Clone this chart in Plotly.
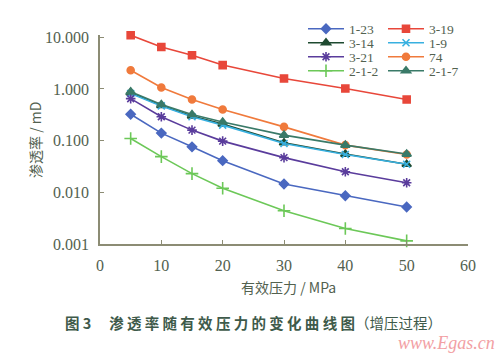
import plotly.graph_objects as go

pressure = [5, 10, 15, 20, 30, 40, 50]

series_names = ["1-23", "3-19", "3-14", "1-9", "3-21", "74", "2-1-2", "2-1-7"]
k_1_23 = [0.325, 0.14, 0.076, 0.041, 0.0145, 0.0086, 0.0052]
k_3_19 = [11.0, 6.5, 4.5, 2.9, 1.6, 1.02, 0.625]
k_3_14 = [0.85, 0.48, 0.30, 0.21, 0.091, 0.055, 0.035]
k_1_9 = [0.82, 0.47, 0.29, 0.20, 0.088, 0.054, 0.035]
k_3_21 = [0.65, 0.29, 0.16, 0.098, 0.047, 0.025, 0.0153]
k_74 = [2.3, 1.07, 0.625, 0.40, 0.185, 0.082, 0.054]
k_2_1_2 = [0.11, 0.049, 0.023, 0.012, 0.0044, 0.002, 0.00115]
k_2_1_7 = [0.88, 0.50, 0.32, 0.23, 0.128, 0.082, 0.055]

y_tickvals = [0.001, 0.01, 0.1, 1, 10]
y_ticktext = ["0.001", "0.010", "0.100", "1.000", "10.000"]
x_tickvals = [0, 10, 20, 30, 40, 50, 60]

values = [k_1_23, k_3_19, k_3_14, k_1_9, k_3_21, k_74, k_2_1_2, k_2_1_7]
colors = ["#4a68c0", "#e8473a", "#1e4a30", "#38b0e0", "#5a3c9c", "#f07a3c", "#6cc858", "#3a7a68"]
symbols = ["diamond", "square", "triangle-up", "x-thin-open", "asterisk-open",
           "circle", "cross-thin-open", "triangle-up"]
sizes = [7, 7, 8, 7, 8, 7, 9, 8]

text_color = "#52614f"
serif = "Liberation Serif, Times New Roman, serif"
cjk = "Noto Sans CJK SC"

# plot area in pixels
PLOT_L, PLOT_W, PLOT_T, PLOT_B = 100, 368, 35, 244
PLOT_H = PLOT_B - PLOT_T
col_px = [303, 383]
row_px = [29, 43, 57, 71]

fig = go.Figure()
layout_legends = {}
for i, (name, vals, c, s, sz) in enumerate(zip(series_names, values, colors, symbols, sizes)):
    lg = "legend" if i == 0 else f"legend{i + 1}"
    fig.add_trace(go.Scatter(
        x=pressure, y=vals, name=name, mode="lines+markers", legend=lg,
        cliponaxis=False,
        line=dict(color=c, width=1.6),
        marker=dict(symbol=s, size=sz, color=c, line=dict(color=c, width=1.6)),
    ))
    col, row = i % 2, i // 2
    layout_legends[lg] = dict(
        x=(col_px[col] - PLOT_L) / PLOT_W, xanchor="left",
        y=(PLOT_B - row_px[row]) / PLOT_H, yanchor="middle",
        font=dict(family=serif, size=13.5, color=text_color),
        bgcolor="rgba(0,0,0,0)", itemwidth=36, borderwidth=0,
    )


def px_x(p):
    return (p - PLOT_L) / PLOT_W


def px_y(p):
    return (PLOT_B - p) / PLOT_H


fig.update_layout(
    width=500, height=353,
    margin=dict(l=PLOT_L, r=500 - PLOT_L - PLOT_W, t=PLOT_T, b=353 - PLOT_B),
    paper_bgcolor="white", plot_bgcolor="white",
    showlegend=True,
    xaxis=dict(
        range=[0, 60], tickvals=x_tickvals, showgrid=False, zeroline=False,
        showline=True, linecolor="#8c8c74", linewidth=1.5,
        ticks="inside", ticklen=4, tickcolor="#8c8c74", ticklabelstandoff=6,
        tickfont=dict(family=serif, size=16, color=text_color),
    ),
    yaxis=dict(
        type="log", range=[-3, 1.045], tickvals=y_tickvals, ticktext=y_ticktext,
        showgrid=False, zeroline=False,
        showline=True, linecolor="#8c8c74", linewidth=1.5,
        ticks="inside", ticklen=4, tickcolor="#8c8c74", ticklabelstandoff=6,
        tickfont=dict(family=serif, size=16, color=text_color),
    ),
    annotations=[
        dict(text="渗透率 / mD", xref="paper", yref="paper",
             x=px_x(35), y=px_y(140), textangle=-90, showarrow=False,
             xanchor="center", yanchor="middle",
             font=dict(family=f"{cjk}, {serif}", size=14, color=text_color)),
        dict(text="有效压力 / MPa", xref="paper", yref="paper",
             x=px_x(288), y=px_y(287), showarrow=False,
             xanchor="center", yanchor="middle",
             font=dict(family=f"{cjk}, {serif}", size=14, color=text_color)),
        dict(text="<b>图 3　 渗 透 率 随 有 效 压 力 的 变 化 曲 线 图</b>（增压过程）",
             xref="paper", yref="paper",
             x=px_x(63), y=px_y(322), showarrow=False,
             xanchor="left", yanchor="middle",
             font=dict(family=cjk, size=14.5, color="#3e5a4a")),
        dict(text="<i>www.Egas.cn</i>", xref="paper", yref="paper",
             x=px_x(396), y=px_y(343), showarrow=False,
             xanchor="left", yanchor="middle",
             font=dict(family=serif, size=18, color="#f2a0a4")),
    ],
    **layout_legends,
)

fig.write_html("out.html")
